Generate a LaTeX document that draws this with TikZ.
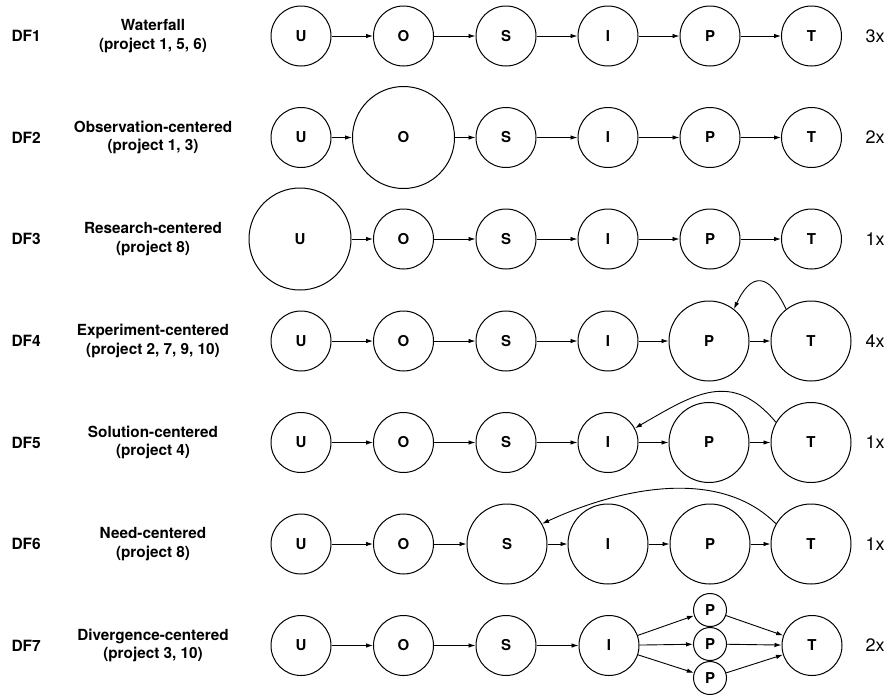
\documentclass[tikz,border=0pt]{standalone}
\usepackage{fontspec}
\setmainfont{TeX Gyre Heros}
\usetikzlibrary{arrows.meta}

\begin{document}
\begin{tikzpicture}[
  x=1pt, y=-1pt,
  stage/.style={circle, draw, line width=1pt, minimum size=60pt, inner sep=0pt,
                font=\bfseries\fontsize{15}{18}\selectfont},
  midstage/.style={stage, minimum size=80pt},
  bigstage/.style={stage, minimum size=102pt},
  tinystage/.style={stage, minimum size=33pt},
  rowid/.style={anchor=west, font=\bfseries\fontsize{15.5}{18}\selectfont},
  rowname/.style={align=center, font=\bfseries\fontsize{15.3}{18.5}\selectfont},
  freq/.style={font=\fontsize{18}{20}\selectfont},
  arrow/.style={-{Latex[length=7pt,width=4.5pt]}, line width=0.9pt},
]
\useasboundingbox (0,0) rectangle (894,697);

% ---- DF1 ----
\node[rowid]   (df1) at (8,36)   {DF1};
\node[rowname] (n1)  at (153,36) {Waterfall\\(project 1, 5, 6)};
\node[stage] (u1) at (301,36)   {U};
\node[stage] (o1) at (403.5,36) {O};
\node[stage] (s1) at (506,36)   {S};
\node[stage] (i1) at (608,36)   {I};
\node[stage] (p1) at (710,36)   {P};
\node[stage] (t1) at (811.5,36) {T};
\node[freq]  (f1) at (875,36)   {3x};

% ---- DF2 ----
\node[rowid]   (df2) at (8,137.5)   {DF2};
\node[rowname] (n2)  at (153,137.5) {Observation-centered\\(project 1, 3)};
\node[stage]    (u2) at (301,137.5)   {U};
\node[bigstage] (o2) at (403.5,137.5) {O};
\node[stage]    (s2) at (506,137.5)   {S};
\node[stage]    (i2) at (608,137.5)   {I};
\node[stage]    (p2) at (710,137.5)   {P};
\node[stage]    (t2) at (811.5,137.5) {T};
\node[freq]     (f2) at (875,137.5)   {2x};

% ---- DF3 ----
\node[rowid]   (df3) at (8,239)   {DF3};
\node[rowname] (n3)  at (153,239) {Research-centered\\(project 8)};
\node[bigstage] (u3) at (300,239)   {U};
\node[stage]    (o3) at (403.5,239) {O};
\node[stage]    (s3) at (506,239)   {S};
\node[stage]    (i3) at (608,239)   {I};
\node[stage]    (p3) at (710,239)   {P};
\node[stage]    (t3) at (811.5,239) {T};
\node[freq]     (f3) at (875,239)   {1x};

% ---- DF4 ----
\node[rowid]   (df4) at (8,341)   {DF4};
\node[rowname] (n4)  at (153,341) {Experiment-centered\\(project 2, 7, 9, 10)};
\node[stage]    (u4) at (301,341)   {U};
\node[stage]    (o4) at (403.5,341) {O};
\node[stage]    (s4) at (506,341)   {S};
\node[stage]    (i4) at (608,341)   {I};
\node[midstage] (p4) at (709,341)   {P};
\node[midstage] (t4) at (811,341)   {T};
\node[freq]     (f4) at (875,341)   {4x};

% ---- DF5 ----
\node[rowid]   (df5) at (8,442.5)   {DF5};
\node[rowname] (n5)  at (153,442.5) {Solution-centered\\(project 4)};
\node[stage]    (u5) at (301,442.5)   {U};
\node[stage]    (o5) at (403.5,442.5) {O};
\node[stage]    (s5) at (506,442.5)   {S};
\node[stage]    (i5) at (608,442.5)   {I};
\node[midstage] (p5) at (709,442.5)   {P};
\node[midstage] (t5) at (811,442.5)   {T};
\node[freq]     (f5) at (875,442.5)   {1x};

% ---- DF6 ----
\node[rowid]   (df6) at (8,544)   {DF6};
\node[rowname] (n6)  at (153,544) {Need-centered\\(project 8)};
\node[stage]    (u6) at (301,544)   {U};
\node[stage]    (o6) at (403.5,544) {O};
\node[midstage] (s6) at (507,544)   {S};
\node[midstage] (i6) at (608,544)   {I};
\node[midstage] (p6) at (710,544)   {P};
\node[midstage] (t6) at (811,544)   {T};
\node[freq]     (f6) at (875,544)   {1x};

% ---- DF7 ----
\node[rowid]   (df7) at (8,645.5)   {DF7};
\node[rowname] (n7)  at (153,645.5) {Divergence-centered\\(project 3, 10)};
\node[stage]     (u7)  at (301,645.5)   {U};
\node[stage]     (o7)  at (403.5,645.5) {O};
\node[stage]     (s7)  at (506,645.5)   {S};
\node[stage]     (i7)  at (609,645.5)   {I};
\node[tinystage] (p7a) at (710,610)     {P};
\node[tinystage] (p7b) at (710,644)     {P};
\node[tinystage] (p7c) at (710,678)     {P};
\node[stage]     (t7)  at (812,645.5)   {T};
\node[freq]      (f7)  at (875,645.5)   {2x};

% ---- forward links ----
\draw[arrow] (u1) -- (o1); \draw[arrow] (o1) -- (s1); \draw[arrow] (s1) -- (i1);
\draw[arrow] (i1) -- (p1); \draw[arrow] (p1) -- (t1);
\draw[arrow] (u2) -- (o2); \draw[arrow] (o2) -- (s2); \draw[arrow] (s2) -- (i2);
\draw[arrow] (i2) -- (p2); \draw[arrow] (p2) -- (t2);
\draw[arrow] (u3) -- (o3); \draw[arrow] (o3) -- (s3); \draw[arrow] (s3) -- (i3);
\draw[arrow] (i3) -- (p3); \draw[arrow] (p3) -- (t3);
\draw[arrow] (u4) -- (o4); \draw[arrow] (o4) -- (s4); \draw[arrow] (s4) -- (i4);
\draw[arrow] (i4) -- (p4); \draw[arrow] (p4) -- (t4);
\draw[arrow] (u5) -- (o5); \draw[arrow] (o5) -- (s5); \draw[arrow] (s5) -- (i5);
\draw[arrow] (i5) -- (p5); \draw[arrow] (p5) -- (t5);
\draw[arrow] (u6) -- (o6); \draw[arrow] (o6) -- (s6); \draw[arrow] (s6) -- (i6);
\draw[arrow] (i6) -- (p6); \draw[arrow] (p6) -- (t6);
\draw[arrow] (u7) -- (o7); \draw[arrow] (o7) -- (s7); \draw[arrow] (s7) -- (i7);
\draw[arrow] (i7) -- (p7a); \draw[arrow] (i7) -- (p7b); \draw[arrow] (i7) -- (p7c);
\draw[arrow] (p7a) -- (t7); \draw[arrow] (p7b) -- (t7); \draw[arrow] (p7c) -- (t7);

% ---- feedback loops ----
\draw[arrow] (t4.128) to[out=115, in=65, looseness=2] (p4.52);
\draw[arrow] (t5.150) to[out=130, in=30, looseness=1.25] (i5.28);
\draw[arrow] (t6.150) to[out=135, in=25, looseness=0.9] (s6.30);

\end{tikzpicture}
\end{document}
